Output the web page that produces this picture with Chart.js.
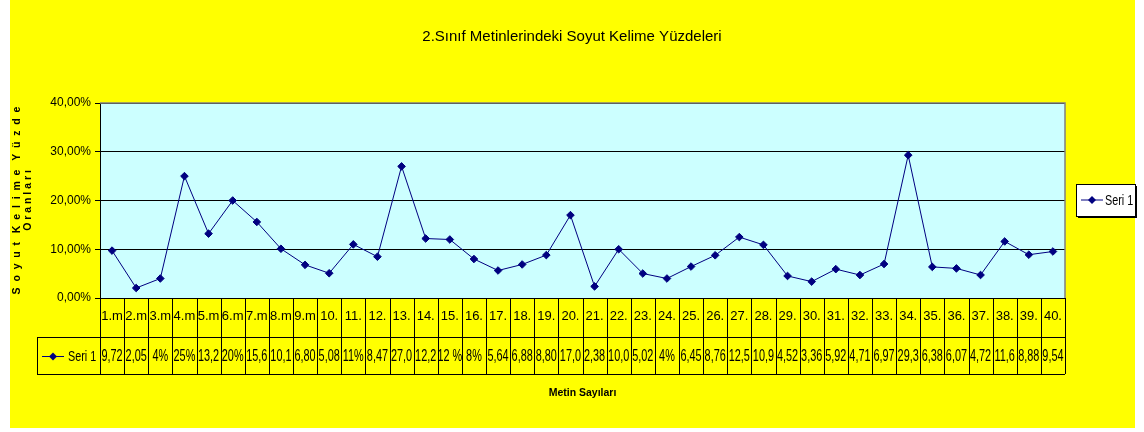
<!DOCTYPE html>
<html>
<head>
<meta charset="utf-8">
<script src="https://cdn.jsdelivr.net/npm/chart.js@4.4.0/dist/chart.umd.min.js"></script>
<style>
  html, body { margin: 0; padding: 0; background: #fff; }
  #wrap { width: 1144px; height: 432px; }
</style>
</head>
<body>
<div id="wrap"><canvas id="chart" width="1144" height="432"></canvas></div>
<script>
// ---- data ----
const metinLabels = ["1.m", "2.m", "3.m", "4.m", "5.m", "6.m", "7.m", "8.m", "9.m", "10.",
  "11.", "12.", "13.", "14.", "15.", "16.", "17.", "18.", "19.", "20.",
  "21.", "22.", "23.", "24.", "25.", "26.", "27.", "28.", "29.", "30.",
  "31.", "32.", "33.", "34.", "35.", "36.", "37.", "38.", "39.", "40."];
const seri1 = [9.72, 2.05, 4, 25, 13.2, 20, 15.6, 10.1, 6.80, 5.08,
  11, 8.47, 27.0, 12.2, 12, 8, 5.64, 6.88, 8.80, 17.0,
  2.38, 10.0, 5.02, 4, 6.45, 8.76, 12.5, 10.9, 4.52, 3.36,
  5.92, 4.71, 6.97, 29.3, 6.38, 6.07, 4.72, 11.6, 8.88, 9.54];
// what the data table shows (cut off like in the original sheet)
const seri1Text = ["9,72", "2,05", "4%", "25%", "13,2", "20%", "15,6", "10,1", "6,80", "5,08",
  "11%", "8,47", "27,0", "12,2", "12 %", "8%", "5,64", "6,88", "8,80", "17,0",
  "2,38", "10,0", "5,02", "4%", "6,45", "8,76", "12,5", "10,9", "4,52", "3,36",
  "5,92", "4,71", "6,97", "29,3", "6,38", "6,07", "4,72", "11,6", "8,88", "9,54"];
const seriName = "Seri 1";
const yMax = 40;
const yStep = 10;

// ---- look ----
const FONT = "'Liberation Sans', Arial, sans-serif";
const NAVY = "#000080";
Chart.defaults.font.family = FONT;
Chart.defaults.color = "#000";

// narrow text: squeeze horizontally like the old Excel render
function narrowText(ctx, text, x, y, sx) {
  ctx.save();
  ctx.translate(x, y);
  ctx.scale(sx, 1);
  ctx.fillText(text, 0, 0);
  ctx.restore();
}

function drawKey(ctx, x, y) {
  ctx.strokeStyle = NAVY;
  ctx.lineWidth = 1;
  ctx.beginPath();
  ctx.moveTo(x, y); ctx.lineTo(x + 22, y);
  ctx.stroke();
  ctx.fillStyle = NAVY;
  ctx.beginPath();
  ctx.moveTo(x + 11, y - 4); ctx.lineTo(x + 15, y);
  ctx.lineTo(x + 11, y + 4); ctx.lineTo(x + 7, y);
  ctx.closePath();
  ctx.fill();
}

// yellow sheet + cyan plot area
const background = {
  id: "background",
  beforeDraw(chart) {
    const { ctx, chartArea: a } = chart;
    ctx.save();
    ctx.fillStyle = "#fff";
    ctx.fillRect(0, 0, chart.width, chart.height);
    ctx.fillStyle = "#FFFF00";
    ctx.fillRect(10, 0, 1125, 428);
    ctx.fillStyle = "#CCFFFF";
    ctx.fillRect(a.left, a.top, a.right - a.left, a.bottom - a.top);
    ctx.restore();
  },
  beforeDatasetsDraw(chart) {
    const { ctx, chartArea: a } = chart;
    ctx.save();
    ctx.strokeStyle = "#808080";
    ctx.lineWidth = 1.5;
    ctx.beginPath();
    ctx.moveTo(a.left, a.top); ctx.lineTo(a.right, a.top); ctx.lineTo(a.right, a.bottom);
    ctx.stroke();
    ctx.restore();
  }
};

// data table under the x axis
const dataTable = {
  id: "dataTable",
  afterDraw(chart) {
    const { ctx, chartArea: a, scales: { x } } = chart;
    const w = (a.right - a.left) / metinLabels.length;
    const r1 = a.bottom, r2 = a.bottom + 39, r3 = a.bottom + 76;
    const keyLeft = 37;
    const midY = (r2 + r3) / 2 + 1;
    ctx.save();
    ctx.strokeStyle = "#000";
    ctx.lineWidth = 1;
    ctx.beginPath();
    for (let i = 0; i <= metinLabels.length; i++) {
      const px = Math.round(x.getPixelForValue(i) - w / 2) + 0.5;
      ctx.moveTo(px, r1); ctx.lineTo(px, r3);
    }
    ctx.moveTo(keyLeft, r2 + 0.5); ctx.lineTo(a.right, r2 + 0.5);
    ctx.moveTo(keyLeft, r3 + 0.5); ctx.lineTo(a.right, r3 + 0.5);
    ctx.moveTo(keyLeft + 0.5, r2); ctx.lineTo(keyLeft + 0.5, r3);
    ctx.stroke();

    ctx.fillStyle = "#000";
    ctx.font = "16px " + FONT;
    ctx.textAlign = "center";
    ctx.textBaseline = "middle";
    seri1Text.forEach((t, i) => narrowText(ctx, t, x.getPixelForValue(i), midY, 0.68));

    drawKey(ctx, keyLeft + 5, midY);
    ctx.fillStyle = "#000";
    ctx.textAlign = "left";
    ctx.font = "15px " + FONT;
    narrowText(ctx, seriName, keyLeft + 31, midY, 0.72);
    ctx.restore();
  }
};

// legend box on the right
const legendBox = {
  id: "legendBox",
  afterDraw(chart) {
    const { ctx, chartArea: a } = chart;
    const lx = a.right + 11, ly = 184, lw = 59, lh = 32;
    ctx.save();
    ctx.fillStyle = "#000";
    ctx.fillRect(lx + 2, ly + 2, lw, lh);
    ctx.fillStyle = "#fff";
    ctx.fillRect(lx, ly, lw, lh);
    ctx.strokeStyle = "#000";
    ctx.lineWidth = 1;
    ctx.strokeRect(lx + 0.5, ly + 0.5, lw, lh);
    drawKey(ctx, lx + 5, ly + lh / 2);
    ctx.fillStyle = "#000";
    ctx.font = "15px " + FONT;
    ctx.textAlign = "left";
    ctx.textBaseline = "middle";
    narrowText(ctx, seriName, lx + 29, ly + lh / 2 + 1, 0.72);
    ctx.restore();
  }
};

new Chart(document.getElementById("chart"), {
  type: "line",
  data: {
    labels: metinLabels,
    datasets: [{
      label: seriName,
      data: seri1,
      borderColor: NAVY,
      backgroundColor: NAVY,
      borderWidth: 1,
      tension: 0,
      pointStyle: "rectRot",
      pointRadius: 3.8,
      pointBackgroundColor: NAVY,
      pointBorderColor: NAVY,
      fill: false
    }]
  },
  options: {
    responsive: false,
    animation: false,
    layout: { padding: 0 },
    plugins: {
      legend: { display: false },
      tooltip: { enabled: false },
      title: {
        display: true,
        text: "2.Sınıf Metinlerindeki Soyut Kelime Yüzdeleri",
        color: "#000",
        font: { size: 15, weight: "normal", lineHeight: 1.2 },
        padding: { top: 28, bottom: 57 }
      }
    },
    scales: {
      x: {
        offset: true,
        afterFit: (s) => { s.height = 134; },
        grid: { display: false, drawTicks: false },
        border: { display: true, color: "#000" },
        ticks: { autoSkip: false, maxRotation: 0, minRotation: 0, padding: 11, font: { size: 13 }, color: "#000" },
        title: {
          display: true,
          text: "Metin Sayıları",
          color: "#000",
          font: { size: 10.5, weight: "bold" },
          padding: { top: 0, bottom: 33 }
        }
      },
      y: {
        min: 0,
        max: yMax,
        afterFit: (s) => { s.width = 100; },
        grid: { color: "#000", lineWidth: 1, tickLength: 5, drawTicks: true },
        border: { display: true, color: "#000" },
        ticks: {
          stepSize: yStep,
          padding: 4,
          font: { size: 12 },
          color: "#000",
          callback: (v) => v.toFixed(2).replace(".", ",") + "%"
        },
        title: {
          display: true,
          text: ["S  o  y  u  t   K  e  l  i  m  e   Y  ü  z  d  e", "O r a n l a r ı"],
          color: "#000",
          font: { size: 10.5, weight: "bold", lineHeight: 1.1 },
          padding: { top: 11, bottom: 0 }
        }
      },
      // empty right-hand band that holds the legend box
      yRight: {
        type: "linear",
        position: "right",
        afterFit: (s) => { s.width = 79; },
        grid: { display: false },
        border: { display: false },
        ticks: { display: false }
      }
    }
  },
  plugins: [background, dataTable, legendBox]
});
</script>
</body>
</html>
